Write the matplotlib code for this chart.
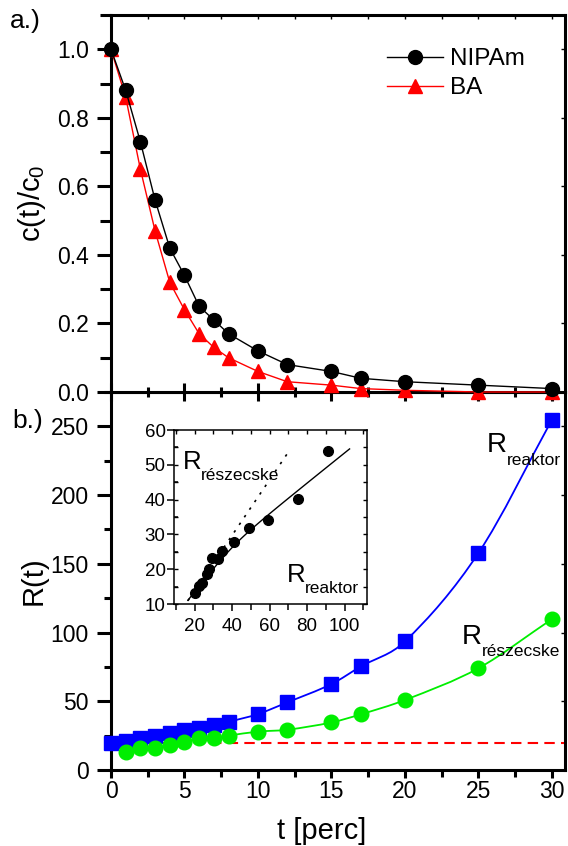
import numpy as np
import matplotlib
matplotlib.use("Agg")
import matplotlib.pyplot as plt
from matplotlib.path import Path
from matplotlib.patches import PathPatch
from matplotlib.ticker import MultipleLocator, FormatStrFormatter

plt.rcParams['font.family'] = ['Liberation Sans', 'DejaVu Sans']
plt.rcParams['mathtext.fontset'] = 'custom'
plt.rcParams['mathtext.rm'] = 'Liberation Sans'
plt.rcParams['mathtext.it'] = 'Liberation Sans:italic'

# --- a.) monomer conversion ---
t_min = [0, 1, 2, 3, 4, 5, 6, 7, 8, 10, 12, 15, 17, 20, 25, 30]
c_nipam = [1.0, 0.88, 0.73, 0.56, 0.42, 0.34, 0.25, 0.21, 0.17, 0.12, 0.08,
           0.06, 0.04, 0.03, 0.02, 0.01]
c_ba = [1.0, 0.86, 0.65, 0.47, 0.32, 0.24, 0.17, 0.13, 0.10, 0.06, 0.03,
        0.02, 0.01, 0.005, 0.0, 0.0]

# --- b.) radius vs time ---
r_reaktor = [19.6, 21.3, 23.3, 25.0, 26.6, 29.0, 30.5, 33.0, 35.1, 40.7, 49.2,
             62.5, 75.3, 93.5, 157.7, 254.6]
t_part = [1, 2, 3, 4, 5, 6, 7, 8, 10, 12, 15, 17, 20, 25, 30]
r_reszecske = [12.8, 15.7, 16.2, 18.4, 20.1, 23.5, 23.3, 25.0, 27.9, 29.3,
               34.6, 40.5, 50.9, 74.0, 109.7]
r_seed = 20

# --- inset: particle radius vs reactor radius ---
ins_reaktor = [20.0, 22.3, 23.7, 26.6, 27.6, 29.4, 32.4, 34.6, 40.8, 48.9,
               59.4, 75.0, 91.0]
ins_reszecske = [13.1, 15.2, 15.9, 18.5, 20.1, 23.3, 22.9, 25.3, 27.9, 31.8,
                 34.1, 40.2, 54.0]
# model curve: smooth transition between an early and a late linear regime
early_pt, early_slope = (16.4, 11.4), 0.69
late_pt, late_slope = (102.7, 54.7), 0.43
knee_width = 3.0
model_range = (16.4, 102.7)
# initial linear trend (dotted)
ideal_slope, ideal_icpt, ideal_range = 0.797, -2.15, (16.4, 69.2)


def smooth_path(x, y):
    """Cubic Bezier path through the points (Hermite tangents)."""
    x = np.asarray(x, float)
    y = np.asarray(y, float)
    n = len(x)
    m = np.empty(n)
    m[1:-1] = (y[2:] - y[:-2]) / (x[2:] - x[:-2])
    m[0] = (y[1] - y[0]) / (x[1] - x[0])
    m[-1] = (y[-1] - y[-2]) / (x[-1] - x[-2])
    verts = [(x[0], y[0])]
    codes = [Path.MOVETO]
    for i in range(n - 1):
        h = x[i + 1] - x[i]
        verts += [(x[i] + h / 3, y[i] + m[i] * h / 3),
                  (x[i + 1] - h / 3, y[i + 1] - m[i + 1] * h / 3),
                  (x[i + 1], y[i + 1])]
        codes += [Path.CURVE4] * 3
    return Path(verts, codes)


def model_curve(x):
    l1 = early_pt[1] + early_slope * (x - early_pt[0])
    l2 = late_pt[1] + late_slope * (x - late_pt[0])
    return 0.5 * (l1 + l2) - 0.5 * np.sqrt((l1 - l2) ** 2 + knee_width ** 2)


W, H = 568, 846
fig = plt.figure(figsize=(W / 100, H / 100), dpi=100)
L, R = 111, 565
ax2 = fig.add_axes([L / W, 1 - 770 / H, (R - L) / W, (770 - 392) / H])
ax1 = fig.add_axes([L / W, 1 - 392 / H, (R - L) / W, (392 - 15) / H])
axi = fig.add_axes([174 / W, 1 - 604 / H, (367 - 174) / W, (604 - 430) / H])

SW = 2.2
TICK_FS = 16.5
LABEL_FS = 21
for ax in (ax1, ax2):
    for s in ax.spines.values():
        s.set_linewidth(SW)

# ---------- panel a ----------
l_ba, = ax1.plot(t_min, c_ba, color='red', lw=1.0, marker='^', ms=9.5,
                 mec='red', mfc='red', clip_on=False, zorder=3)
l_ni, = ax1.plot(t_min, c_nipam, color='black', lw=1.0, marker='o', ms=10,
                 mec='black', mfc='black', clip_on=False, zorder=4)
ax1.set_xlim(0, 30.9)
ax1.set_ylim(0, 1.1)
ax1.xaxis.set_major_locator(MultipleLocator(5))
ax1.xaxis.set_minor_locator(MultipleLocator(2.5))
ax1.yaxis.set_major_locator(MultipleLocator(0.2))
ax1.yaxis.set_minor_locator(MultipleLocator(0.1))
ax1.yaxis.set_major_formatter(FormatStrFormatter('%.1f'))
ax1.tick_params(axis='x', which='major', direction='inout', length=13.5,
                width=SW, labelbottom=False)
ax1.tick_params(axis='x', which='minor', direction='inout', length=7,
                width=SW)
ax1.tick_params(axis='y', which='major', direction='out', length=10,
                width=SW, labelsize=TICK_FS, pad=6)
ax1.tick_params(axis='y', which='minor', direction='out', length=8,
                width=SW)
ax1.set_ylabel(r'c(t)/c$_0$', fontsize=LABEL_FS)
ax1.yaxis.set_label_coords((48 - L) / (R - L), 0.5)
ax1.legend([l_ni, l_ba], ['NIPAm', 'BA'], loc='upper left',
           bbox_to_anchor=((387 - L) / (R - L), 1 - (48 - 15) / 377),
           frameon=False, fontsize=17.5, handlelength=2.3, handletextpad=0.3,
           labelspacing=0.3, borderpad=0, borderaxespad=0, numpoints=1)

top1 = ax1.secondary_xaxis('top')
top1.xaxis.set_major_locator(MultipleLocator(2.5))
top1.tick_params(direction='in', length=3, width=1, labeltop=False)
top1.spines['top'].set_visible(False)
right1 = ax1.secondary_yaxis('right')
right1.yaxis.set_major_locator(MultipleLocator(0.2))
right1.tick_params(direction='in', length=3, width=1, labelright=False)
right1.spines['right'].set_visible(False)

# ---------- panel b ----------
ax2.axhline(r_seed, color='red', lw=1.5, ls=(0, (5, 3)), zorder=2)
ax2.add_patch(PathPatch(smooth_path(t_min, r_reaktor), fc='none',
                        ec='blue', lw=1.3, zorder=3))
ax2.add_patch(PathPatch(smooth_path(t_part, r_reszecske), fc='none',
                        ec='#00ee00', lw=1.3, zorder=3))
ax2.plot(t_min, r_reaktor, ls='none', marker='s', ms=9.5, color='blue',
         clip_on=False, zorder=4)
ax2.plot(t_part, r_reszecske, ls='none', marker='o', ms=10.5,
         color='#00ee00', clip_on=False, zorder=5)
ax2.set_xlim(0, 30.9)
ax2.set_ylim(0, 275)
ax2.xaxis.set_major_locator(MultipleLocator(5))
ax2.xaxis.set_minor_locator(MultipleLocator(2.5))
ax2.yaxis.set_major_locator(MultipleLocator(50))
ax2.yaxis.set_minor_locator(MultipleLocator(25))
ax2.tick_params(axis='x', which='major', direction='out', length=6,
                width=SW, labelsize=TICK_FS, pad=1)
ax2.tick_params(axis='x', which='minor', direction='out', length=5,
                width=SW)
ax2.tick_params(axis='y', which='major', direction='out', length=10,
                width=SW, labelsize=TICK_FS, pad=6)
ax2.tick_params(axis='y', which='minor', direction='out', length=5,
                width=SW)
ax2.set_xlabel('t [perc]', fontsize=LABEL_FS)
ax2.xaxis.set_label_coords((322 - L) / (R - L), -(845 - 770) / 378)
ax2.xaxis.label.set_va('bottom')
ax2.set_ylabel('R(t)', fontsize=LABEL_FS)
ax2.yaxis.set_label_coords((48 - L) / (R - L), 0.5)
right2 = ax2.secondary_yaxis('right')
right2.yaxis.set_major_locator(MultipleLocator(50))
right2.tick_params(direction='in', length=3, width=1, labelright=False)
right2.spines['right'].set_visible(False)


def r_label(ax, x, y, sub, size, subsize, dx, dy):
    big = ax.text(x, y, 'R', fontsize=size, va='baseline', ha='left',
                  zorder=6)
    ax.annotate(sub, xy=(1, 0), xycoords=big, xytext=(dx, dy),
                textcoords='offset points', fontsize=subsize,
                va='baseline', ha='left', zorder=6)


r_label(ax2, 25.6, 231, 'reaktor', 20, 12.5, -0.5, -5)
r_label(ax2, 23.9, 92, 'részecske', 20, 12.5, -0.5, -5)

# ---------- inset ----------
for s in axi.spines.values():
    s.set_linewidth(1.1)
axi.plot(ins_reaktor, ins_reszecske, ls='none', marker='o', ms=7,
         color='black', zorder=4)
xm = np.linspace(*model_range, 80)
axi.plot(xm, model_curve(xm), color='black', lw=1.0)
xi = np.array(ideal_range)
axi.plot(xi, ideal_slope * xi + ideal_icpt, color='black', lw=1.2,
         ls=(0, (1.5, 4)))
axi.set_xlim(9, 112)
axi.set_ylim(10, 60)
axi.xaxis.set_major_locator(MultipleLocator(20))
axi.xaxis.set_minor_locator(MultipleLocator(10))
axi.yaxis.set_major_locator(MultipleLocator(10))
axi.yaxis.set_minor_locator(MultipleLocator(5))
axi.tick_params(which='major', direction='out', length=5, width=1.1,
                labelsize=13.5, pad=1)
axi.tick_params(axis='x', which='major', pad=5)
axi.tick_params(axis='x', which='minor', direction='out', length=4,
                width=1.1)
axi.tick_params(axis='y', which='minor', direction='in', length=3,
                width=1.1)
for side in ('left', 'right'):
    sec = axi.secondary_yaxis(side)
    sec.yaxis.set_major_locator(MultipleLocator(5))
    sec.tick_params(direction='in', length=3, width=1.0,
                    labelleft=False, labelright=False)
    sec.spines[side].set_visible(False)
sec_top = axi.secondary_xaxis('top')
sec_top.xaxis.set_major_locator(MultipleLocator(10))
sec_top.tick_params(direction='in', length=3, width=1.0, labeltop=False)
sec_top.spines['top'].set_visible(False)

r_label(axi, 13.6, 48.8, 'részecske', 18.5, 12.5, -0.5, -4.5)
r_label(axi, 69.1, 16.4, 'reaktor', 18.5, 12.5, -0.5, -4.5)

fig.text(10 / W, 1 - 28 / H, 'a.)', fontsize=19, va='baseline')
fig.text(12 / W, 1 - 428 / H, 'b.)', fontsize=19, va='baseline')

fig.savefig('out.png', dpi=100)
